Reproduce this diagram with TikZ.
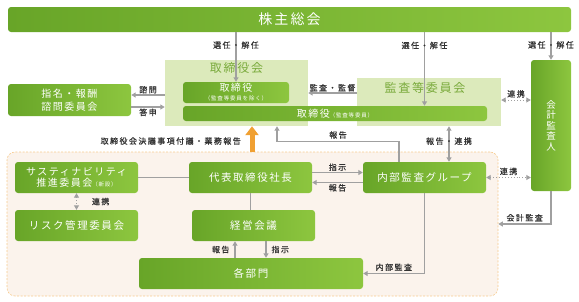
\documentclass[tikz,border=0pt]{standalone}
\usepackage{fontspec}
\setmainfont{Noto Sans CJK JP}
\newfontfamily\jpwide[LetterSpace=15]{Noto Sans CJK JP}
\newfontfamily\jplabel[LetterSpace=18,FakeBold=0.6]{Noto Sans CJK JP}
\usepackage{tikz}
\usetikzlibrary{arrows.meta,positioning,calc}
\usepackage{xcolor}
\newcommand{\boxfont}{\jpwide\fontsize{10.5}{12}\selectfont}
\newcommand{\lblfont}{\jplabel\fontsize{8}{9}\selectfont}
\newcommand{\tinyfont}{\fontsize{5.5}{6}\selectfont}
\definecolor{gL}{RGB}{104,165,40}
\definecolor{gR}{RGB}{141,198,63}
\definecolor{pale}{RGB}{220,234,187}
\definecolor{peach}{RGB}{251,243,236}
\definecolor{orng}{RGB}{240,160,50}
\definecolor{ln}{RGB}{160,160,160}
\definecolor{ttlg}{RGB}{122,170,60}
\definecolor{txt}{RGB}{50,50,50}

\begin{document}
\begin{tikzpicture}[x=1pt,y=-1pt,
  gbox/.style={rounded corners=3pt,left color=gL,right color=gR,text=white,
    minimum width=123pt,minimum height=31pt,inner sep=0pt,align=center,font=\boxfont},
  pbox/.style={fill=pale,inner sep=0pt},
  ttl/.style={font=\jpwide\fontsize{12}{14}\selectfont,text=ttlg,inner sep=0pt},
  lbl/.style={font=\lblfont,text=txt,inner sep=1pt},
  arr/.style={draw=ln,line width=1.1pt,-{Triangle[length=4.5pt,width=5pt]}},
  darr/.style={draw=ln,line width=1.1pt,{Triangle[length=4.5pt,width=5pt]}-{Triangle[length=4.5pt,width=5pt]}},
  link/.style={draw=ln,line width=0.9pt,dotted,{Triangle[length=4.5pt,width=5pt]}-{Triangle[length=4.5pt,width=5pt]}}
]
\useasboundingbox (0,0) rectangle (579,301);

\node[fill=peach,draw=orng!55,line width=0.6pt,dash pattern=on 2pt off 1.5pt,rounded corners=8pt,
  minimum width=491pt,minimum height=144pt,inner sep=0pt] (grp) at (252.5,224) {};
\node[pbox,minimum width=143pt,minimum height=66pt] (torikai) at (236.5,93) {};
\node[ttl] (torikaiT) at (236.5,68) {取締役会};
\node[pbox,minimum width=144pt,minimum height=48pt] (kansakai) at (429,102) {};
\node[ttl] (kansakaiT) at (425,88) {監査等委員会};

\node[gbox,minimum width=563pt,minimum height=25pt,font=\jpwide\fontsize{14}{16}\selectfont] (kabu) at (289.5,19.5) {株主総会};
\node[gbox,minimum width=106pt,minimum height=21pt,font=\jpwide\fontsize{10}{10}\selectfont] (tori) at (236,92.5) {取締役\\[-1pt]{\tinyfont（監査等委員を除く）}};
\node[gbox,minimum width=304pt,minimum height=15pt,font=\jpwide\fontsize{10}{10}\selectfont] (toriK) at (335,113.5) {取締役{\tinyfont（監査等委員）}};
\node[gbox,minimum width=40pt,minimum height=131pt,font=\fontsize{9.5}{10.5}\selectfont] (kaikei) at (551,125.5) {会\\計\\監\\査\\人};
\node[gbox,minimum height=32pt,font=\jpwide\fontsize{10}{13}\selectfont] (shimei) at (69.5,100) {指名・報酬\\諮問委員会};
\node[gbox,font=\jpwide\fontsize{10}{11.5}\selectfont] (sustain) at (76.5,177.5) {サスティナビリティ\\推進委員会{\tinyfont（新設）}};
\node[gbox] (risk) at (76.5,225.5) {リスク管理委員会};
\node[gbox] (daihyo) at (250.5,177.5) {代表取締役社長};
\node[gbox] (naibu) at (424.5,177.5) {内部監査グループ};
\node[gbox] (keiei) at (253.5,225.5) {経営会議};
\node[gbox,minimum width=224pt] (kakubu) at (251,273.5) {各部門};

\draw[arr] (tori|-kabu.south) -- node[lbl,pos=0.26] {選任・解任} (tori.north);
\draw[arr] (naibu|-kabu.south) -- node[lbl,pos=0.18] {選任・解任} (naibu|-toriK.north);
\draw[arr] (kaikei|-kabu.south) -- node[lbl,pos=0.46] {選任・解任} (kaikei.north);

\draw[arr] ([yshift=9pt]kansakai.west) -- node[lbl,above] {監査・監督} ([yshift=9pt]kansakai.west-|torikai.east);
\draw[link] ([yshift=2pt]kansakai.east) -- node[lbl,above=1pt] {連携} ([yshift=2pt]kansakai.east-|kaikei.west);
\draw[arr] ([yshift=5pt]shimei.east-|torikai.west) -- node[lbl,above] {諮問} ([yshift=5pt]shimei.east);
\draw[arr] ([yshift=-7pt]shimei.east) -- node[lbl,below] {答申} ([yshift=-7pt]shimei.east-|torikai.west);

\draw[draw=orng,line width=5pt,-{Triangle[length=9pt,width=13pt]}] ([xshift=1.5pt]daihyo.north|-grp.north) -- ([xshift=1.5pt]daihyo.north|-torikai.south);
\node[lbl,anchor=east] (ketsugi) at (242,141) {取締役会決議事項付議・業務報告};

\draw[arr] ([xshift=-25.5pt]naibu.north) |- node[lbl,pos=0.75,above=1pt] {報告} ([xshift=40.5pt,yshift=-15pt]torikai.south) -- ([xshift=40.5pt]torikai.south);
\draw[darr] ([xshift=24.5pt]naibu.north|-kansakai.south) -- node[lbl,pos=0.42] {報告・連携} ([xshift=24.5pt]naibu.north);
\draw[link] (naibu.east) -- node[lbl,above=1pt] {連携} (naibu.east-|kaikei.west);
\draw[arr] (kaikei.south) |- node[lbl,pos=0.75,above=1pt] {会計監査} (grp.east);

\draw[arr] ([yshift=5pt]daihyo.east) -- node[lbl,above] {指示} ([yshift=5pt]naibu.west);
\draw[arr] ([yshift=-5pt]naibu.west) -- node[lbl,below] {報告} ([yshift=-5pt]daihyo.east);
\draw[draw=ln,line width=1.1pt] (sustain.east) -- (daihyo.west);
\draw[link] (sustain.south) -- node[lbl,right=14pt] {連携} (risk.north);
\draw[draw=ln,line width=1.1pt] (daihyo.south) -- (daihyo.south|-keiei.north);
\draw[arr] ([xshift=-18.5pt]keiei.south|-kakubu.north) -- node[lbl,left=4pt] {報告} ([xshift=-18.5pt]keiei.south);
\draw[arr] ([xshift=12.5pt]keiei.south) -- node[lbl,right=4pt] {指示} ([xshift=12.5pt]keiei.south|-kakubu.north);
\draw[arr] (naibu.south) |- node[lbl,pos=0.75,above=1pt] {内部監査} (kakubu.east);
\end{tikzpicture}
\end{document}
